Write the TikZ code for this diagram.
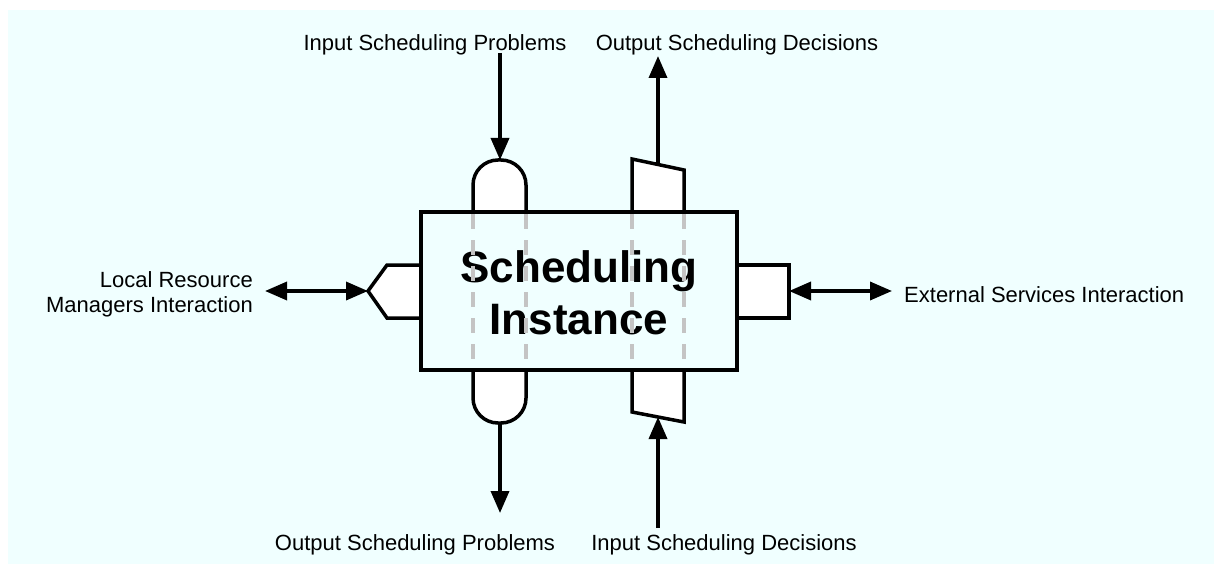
\documentclass[tikz,border=0pt]{standalone}
\usepackage{fontspec}
\setmainfont{Liberation Sans}
\usetikzlibrary{arrows.meta}
\definecolor{bgc}{HTML}{F0FFFF}
\definecolor{dashgray}{HTML}{C4C4C4}
\tikzset{
  lbl/.style={font=\fontsize{22}{25}\selectfont, inner sep=0pt},
  port/.style={draw=black, fill=white, line width=3.5pt, line join=miter},
  conn/.style={line width=3.5pt, -{Triangle[length=22pt,width=18pt]}},
  dconn/.style={line width=3.5pt, {Triangle[length=22pt,width=18pt]}-{Triangle[length=22pt,width=18pt]}},
  guide/.style={draw=dashgray, line width=3.5pt, dash pattern=on 15pt off 11pt},
}
\begin{document}
\begin{tikzpicture}[x=1pt,y=-1pt]
\useasboundingbox (0,0) rectangle (1214,564);
\fill[bgc] (8,10) rectangle (1214,564);

% ports
\draw[port, rounded corners=25pt] (473,212) -- (473,160) -- (526,160) -- (526,212);
\draw[port, rounded corners=25pt] (473,370) -- (473,423) -- (526,423) -- (526,370);
\draw[port] (632,212) -- (632,159) -- (684,170) -- (684,212);
\draw[port] (632,370) -- (632,412) -- (684,422) -- (684,370);
\draw[port] (421,265) -- (387,265) -- (368,291) -- (387,318) -- (421,318);
\draw[port] (737,265) -- (789,265) -- (789,318) -- (737,318);

% port anchors
\coordinate (pTL) at (500,160);
\coordinate (pBL) at (500,423);
\coordinate (pTR) at (658,164.5);
\coordinate (pBR) at (658,417);
\coordinate (pL) at (368,291);
\coordinate (pR) at (789,291);

% main node
\node[draw=none, minimum width=316pt, minimum height=158pt, inner sep=0pt,
      align=center, font=\fontsize{44}{52}\selectfont\bfseries] (main) at (579,293)
      {Scheduling\\Instance};

% dashed guides
\draw[guide] (473,214) -- (473,368);
\draw[guide] (526,214) -- (526,368);
\draw[guide] (632,214) -- (632,368);
\draw[guide] (684,214) -- (684,368);

\draw[line width=3.5pt, line join=miter] (421,212) rectangle (737,370);

% labels
\node[lbl] (inP) at (435,45) {Input Scheduling Problems};
\node[lbl] (outD) at (737,45) {Output Scheduling Decisions};
\node[lbl] (outP) at (415,545) {Output Scheduling Problems};
\node[lbl] (inD) at (724,545) {Input Scheduling Decisions};
\node[lbl, align=right, anchor=east] (lrm) at (253,294) {Local Resource\\Managers Interaction};
\node[lbl, anchor=west] (ext) at (904,295) {External Services Interaction};

% free ends
\coordinate (aTL) at (500,53);
\coordinate (aTR) at (658,56);
\coordinate (aBL) at (500,513);
\coordinate (aBR) at (658,528);
\coordinate (aL) at (265,291);
\coordinate (aR) at (892,291);

% connectors
\draw[conn] (aTL) -- (pTL);
\draw[conn] (pTR) -- (aTR);
\draw[conn] (pBL) -- (aBL);
\draw[conn] (aBR) -- (pBR);
\draw[dconn] (aL) -- (pL);
\draw[dconn] (pR) -- (aR);
\end{tikzpicture}
\end{document}
